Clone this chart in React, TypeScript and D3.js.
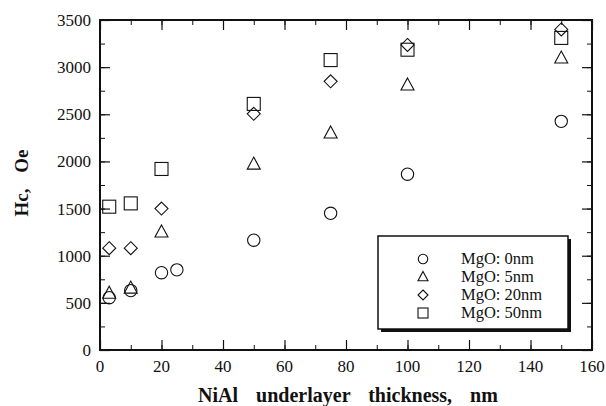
import React, { useEffect, useRef } from 'react';
import * as d3 from 'd3';

// thickness of NiAl underlayer (nm) and coercivity Hc (Oe) per MgO series
const x0nm = [3, 10, 20, 25, 50, 75, 100, 150];
const hc0nm = [555, 630, 820, 850, 1165, 1450, 1865, 2425];

const x5nm = [3, 10, 20, 50, 75, 100, 150];
const hc5nm = [600, 655, 1250, 1970, 2300, 2810, 3095];

const x20nm = [3, 10, 20, 50, 75, 100, 150];
const hc20nm = [1080, 1080, 1500, 2505, 2850, 3235, 3400];

const x50nm = [3, 10, 20, 50, 75, 100, 150];
const hc50nm = [1520, 1555, 1920, 2610, 3075, 3185, 3310];

const seriesNames = ["MgO: 0nm", "MgO: 5nm", "MgO: 20nm", "MgO: 50nm"];
const xTicks = [0, 20, 40, 60, 80, 100, 120, 140, 160];
const yTicks = [0, 500, 1000, 1500, 2000, 2500, 3000, 3500];

type Shape = "circle" | "triangle" | "diamond" | "square";

const drawSymbol = (g: d3.Selection<SVGGElement, unknown, null, undefined>, shape: Shape, cx: number, cy: number, s: number) => {
  let el: any;
  if (shape === "circle") {
    el = g.append("circle").attr("cx", cx).attr("cy", cy).attr("r", s * 0.95);
  } else if (shape === "square") {
    el = g.append("rect").attr("x", cx - s).attr("y", cy - s).attr("width", 2 * s).attr("height", 2 * s);
  } else if (shape === "diamond") {
    el = g.append("path").attr("d", `M${cx},${cy - s}L${cx + s},${cy}L${cx},${cy + s}L${cx - s},${cy}Z`);
  } else {
    el = g.append("path").attr("d", `M${cx},${cy - s * 1.1}L${cx + s},${cy + s * 0.75}L${cx - s},${cy + s * 0.75}Z`);
  }
  el.attr("fill", "none").attr("stroke", "#111").attr("stroke-width", 1.1);
};

const App: React.FC = () => {
  const svgRef = useRef<SVGSVGElement>(null);

  useEffect(() => {
    document.body.style.margin = "0";
    document.body.style.overflow = "hidden";
    if (!svgRef.current) return;
    const margin = { top: 20, right: 14, bottom: 56, left: 100 };
    const W = 606, H = 406;
    const width = W - margin.left - margin.right;
    const height = H - margin.top - margin.bottom;

    const svg = d3.select(svgRef.current);
    svg.selectAll("*").remove();

    const g = svg.append("g").attr("transform", `translate(${margin.left},${margin.top})`);

    const x = d3.scaleLinear().domain([0, 160]).range([0, width]);
    const y = d3.scaleLinear().domain([0, 3500]).range([height, 0]);

    const font = "'Liberation Serif', 'Times New Roman', serif";
    const minorX = d3.range(0, 161, 10);
    const minorY = d3.range(0, 3501, 250);

    // Inward ticks on all four sides (minor then major)
    const makers = [
      () => d3.axisBottom(x), () => d3.axisTop(x),
      () => d3.axisLeft(y), () => d3.axisRight(y),
    ];
    const shifts = [`translate(0,${height})`, "translate(0,0)", "translate(0,0)", `translate(${width},0)`];
    makers.forEach((mk, i) => {
      const isX = i < 2;
      g.append("g").attr("transform", shifts[i])
        .call(mk().tickValues(isX ? minorX : minorY).tickSize(-5).tickFormat(() => ""))
        .call(s => s.select(".domain").remove())
        .selectAll("line").attr("stroke", "#111").attr("stroke-width", 1);
      g.append("g").attr("transform", shifts[i])
        .call(mk().tickValues(isX ? xTicks : yTicks).tickSize(-10).tickFormat(() => ""))
        .call(s => s.select(".domain").remove())
        .selectAll("line").attr("stroke", "#111").attr("stroke-width", 1.2);
    });

    // Tick labels
    g.selectAll(".xl").data(xTicks).enter().append("text")
      .attr("x", d => x(d)).attr("y", height + 22)
      .attr("text-anchor", "middle")
      .style("font-family", font).style("font-size", "17px").attr("fill", "#111")
      .text(d => d);
    g.selectAll(".yl").data(yTicks).enter().append("text")
      .attr("x", -9).attr("y", d => y(d) + 6)
      .attr("text-anchor", "end")
      .style("font-family", font).style("font-size", "17px").attr("fill", "#111")
      .text(d => d);

    // Frame
    g.append("rect").attr("width", width).attr("height", height)
      .attr("fill", "none").attr("stroke", "#111").attr("stroke-width", 2);

    // Axis titles
    svg.append("text")
      .attr("x", 348).attr("y", 402)
      .attr("text-anchor", "middle")
      .style("font-family", font).style("font-size", "20px").style("font-weight", "bold")
      .style("word-spacing", "13px").attr("fill", "#111")
      .text("NiAl underlayer thickness, nm");
    svg.append("text")
      .attr("transform", `translate(28,183) rotate(-90)`)
      .attr("text-anchor", "middle")
      .style("font-family", font).style("font-size", "19px").style("font-weight", "bold")
      .style("word-spacing", "11px").attr("fill", "#111")
      .text("Hc, Oe");

    // Data points
    const series: { xs: number[]; ys: number[]; shape: Shape }[] = [
      { xs: x0nm, ys: hc0nm, shape: "circle" },
      { xs: x5nm, ys: hc5nm, shape: "triangle" },
      { xs: x20nm, ys: hc20nm, shape: "diamond" },
      { xs: x50nm, ys: hc50nm, shape: "square" },
    ];
    const pts = g.append("g");
    series.forEach(s => {
      s.xs.forEach((xv, i) => drawSymbol(pts, s.shape, x(xv), y(s.ys[i]), 6.5));
    });

    // Legend with drop shadow
    const lg = svg.append("g").attr("transform", "translate(378,236)");
    lg.append("rect").attr("x", 3).attr("y", 3).attr("width", 190).attr("height", 93).attr("fill", "#111");
    lg.append("rect").attr("width", 190).attr("height", 93).attr("fill", "#fff")
      .attr("stroke", "#111").attr("stroke-width", 1.5);
    seriesNames.forEach((name, i) => {
      const cy = 23 + i * 18;
      drawSymbol(lg, series[i].shape, 45, cy, 5);
      lg.append("text").attr("x", 83).attr("y", cy + 5)
        .style("font-family", font).style("font-size", "16.5px").attr("fill", "#111")
        .text(name);
    });
  }, []);

  return (
    <div style={{ position: "absolute", left: 0, top: 0, width: 606, height: 406, background: "#fff" }}>
      <svg ref={svgRef} width={606} height={406} style={{ display: "block" }}></svg>
    </div>
  );
};

export default App;
